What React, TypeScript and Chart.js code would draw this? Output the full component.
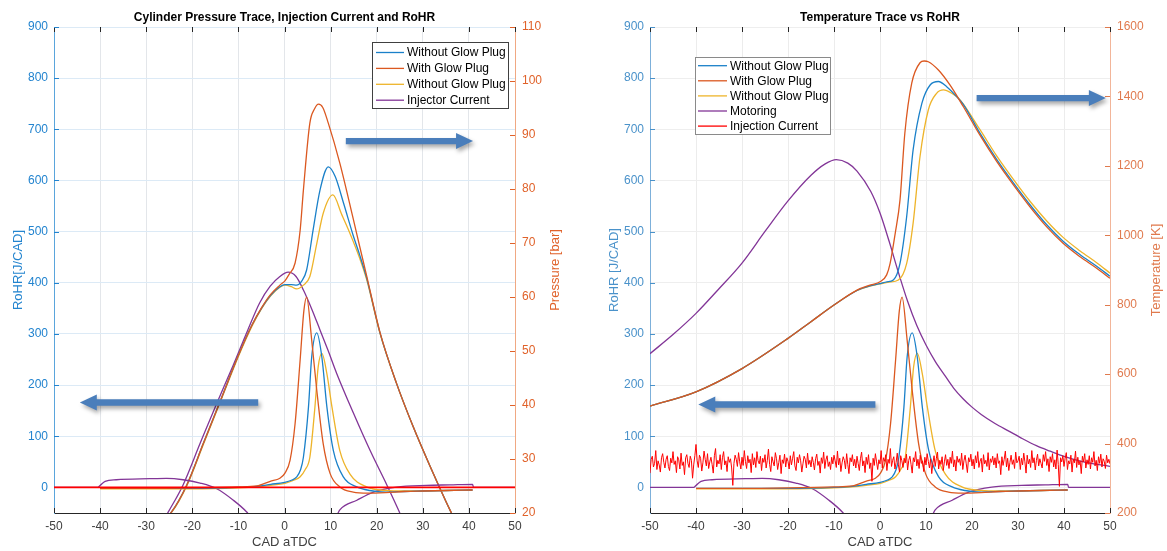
import React, { useEffect, useRef } from "react";
import { Chart, registerables } from "chart.js";

Chart.register(...registerables);

const FONT = "'Liberation Sans', Arial, Helvetica, sans-serif";

// ---------- tick labels ----------
const xTicks = [-50, -40, -30, -20, -10, 0, 10, 20, 30, 40, 50];
const rohrTicks = [0, 100, 200, 300, 400, 500, 600, 700, 800, 900];
const pressureTicks = [20, 30, 40, 50, 60, 70, 80, 90, 100, 110];
const tempTicks = [200, 400, 600, 800, 1000, 1200, 1400, 1600];

// ---------- RoHR [J/CAD] (both panels) ----------
const rohrBlueCad = [-40, -30, -20, -10, -6, -3, 0, 1.5, 2.6, 3.5, 4.1, 5.2, 5.9, 7.0, 8.1, 9.2, 10.6, 12.8, 15.7, 18.5, 22, 26, 30, 35, 40.8];
const rohrBlue = [-2, -2, -2, 0, 2, 6, 10, 14, 20, 35, 59, 157, 255, 302, 255, 157, 72, 20, 1, -6, -9, -8, -7, -6, -5];

const rohrOrangeCad = [-40, -30, -20, -10, -6, -3.1, -1, 0.1, 1.2, 2.3, 3.4, 4.2, 4.8, 5.9, 7.0, 8.4, 9.9, 12.0, 14.9, 18, 22, 26, 30, 35, 40.8];
const rohrOrange = [-2, -2, -1, 1, 3, 12, 18, 28, 53, 125, 250, 345, 372, 288, 190, 85, 27, 1, -9, -11, -10, -8, -7, -6, -5];

const rohrYellowCad = [-40, -30, -20, -10, -6, -3, 0.1, 2, 3.4, 4.5, 5.5, 6.6, 7.3, 8.1, 9.2, 10.3, 12.0, 14.2, 17.8, 22, 26, 30, 35, 40.8];
const rohrYellow = [-3, -3, -3, -1, 1, 4, 8, 14, 21, 35, 59, 157, 235, 262, 222, 157, 72, 26, 1, -6, -7, -7, -6, -5];

const rohrMotorCadA = [-50, -40.5, -40, -38.9, -36.5, -29.2, -25.6, -22, -18.3, -14.7, -11.1, -8.2, -7.5];
const rohrMotorA = [0, 0, 3.9, 12, 15, 17, 17.6, 15, 8.5, -2.6, -25, -48, -56];
const rohrMotorCadB = [11.3, 12, 15.7, 19.3, 24.3, 30.8, 35.9, 40.8, 41, 50];
const rohrMotorB = [-56, -44, -25, -9, 0.6, 4, 5, 6, 0, 0];

// ---------- Left panel: cylinder pressure [bar] ----------
const pOrangeCad = [-26, -24.5, -21.2, -17.6, -14, -10, -7, -5, -3, -1, 0.1, 1.0, 2.3, 3.4, 4.1, 5.5, 6.5, 7.4, 8.3, 9.5, 12, 14.9, 16.3, 17.8, 20.7, 24.3, 27.9, 31.6, 35.2, 36.5];
const pOrange = [19, 20.2, 25.2, 32.9, 40.6, 49.2, 54.9, 58.0, 60.5, 62.2, 63.0, 64.2, 66.3, 72.4, 79.8, 92.2, 94.8, 95.7, 95.1, 92.2, 84.8, 74.5, 69.4, 64.0, 53.5, 44.0, 36.0, 28.6, 21.8, 19.5];

const pBlueCad = [-26, -24.5, -21.2, -17.6, -14, -10, -7, -5, -3, -1, 0.1, 1.5, 2.6, 3.7, 4.8, 6.2, 7.7, 9.5, 11, 12.8, 14.9, 16.3, 17.8, 20.7, 24.3, 27.9, 31.6, 35.2, 36.5];
const pBlue = [19, 20.2, 25.2, 32.9, 40.6, 49.2, 54.9, 57.9, 60.3, 61.9, 62.3, 62.3, 62.2, 62.9, 65.0, 72.4, 79.8, 84.1, 82.3, 77.4, 71.4, 67.8, 63.6, 53.4, 44.0, 36.0, 28.6, 21.8, 19.5];

const pYellowCad = [-26, -24.5, -21.2, -17.6, -14, -10, -7, -5, -3, -1, 0.1, 1.5, 2.6, 4.1, 5.5, 7, 8.4, 10.5, 12.4, 13.8, 14.9, 16.3, 17.8, 20.7, 24.3, 27.9, 31.6, 35.2, 36.5];
const pYellow = [19, 20.1, 25.0, 32.7, 40.4, 49.0, 54.7, 57.8, 60.2, 61.8, 62.2, 61.9, 61.5, 62.2, 63.8, 69.9, 75.5, 78.9, 75.3, 72.6, 70.3, 67.2, 63.3, 53.3, 44.0, 36.0, 28.6, 21.8, 19.5];

const pMotorCad = [-26, -25.2, -22, -18.3, -14.7, -11.1, -8, -5.4, -3.1, -1, 0.8, 2.5, 4.1, 5.9, 7.7, 9.5, 11.3, 14.9, 18.5, 22.2, 24.7, 25.5];
const pMotor = [19, 20.2, 25.2, 32.9, 40.3, 47.4, 53.8, 58.9, 62.0, 63.8, 64.6, 63.8, 61.3, 57.8, 53.9, 50.0, 45.9, 38.6, 31.7, 25.2, 20.6, 19];

const injLeftCad = [-50, 50];
const injLeft = [0, 0];

// ---------- Right panel: temperature [K] ----------
const tOrangeCad = [-50, -40, -30, -20, -15, -10, -5, -2, 0, 1.45, 2.2, 3.3, 4.35, 5.4, 6.9, 8.7, 9.6, 10.5, 12.7, 15.2, 18.1, 21.7, 25.4, 29, 32.6, 36.2, 39.8, 43.5, 47.1, 50];
const tOrange = [508, 549, 616, 703, 751, 799, 842, 857, 866, 886, 919, 1005, 1102, 1294, 1438, 1497, 1502, 1500, 1476, 1433, 1371, 1289, 1212, 1145, 1082, 1025, 977, 938, 905, 876];

const tBlueCad = [-50, -40, -30, -20, -15, -10, -5, -2, 0, 1.5, 2.9, 4.35, 5.8, 7.2, 9.1, 10.9, 12.7, 14.5, 16.7, 18.1, 21.7, 25.4, 29, 32.6, 36.2, 39.8, 43.5, 47.1, 50];
const tBlue = [508, 549, 616, 703, 751, 799, 841, 855, 861, 866, 871, 919, 1054, 1246, 1380, 1433, 1443, 1428, 1399, 1377, 1295, 1218, 1151, 1088, 1031, 983, 944, 911, 882];

const tYellowCad = [-50, -40, -30, -20, -15, -10, -5, -2, 0, 2, 4, 5.8, 7.2, 8.7, 10.5, 12.3, 13.8, 15.6, 17.4, 21.7, 25.4, 29, 32.6, 36.2, 39.8, 43.5, 47.1, 50];
const tYellow = [508, 549, 616, 703, 751, 799, 841, 854, 860, 865, 871, 919, 1035, 1227, 1361, 1409, 1419, 1409, 1390, 1305, 1228, 1161, 1098, 1042, 994, 955, 921, 891];

const tMotorCad = [-50, -45, -40, -35, -30, -25, -20, -15, -12, -9.5, -7, -5, -2, 0, 2, 4, 6, 8, 10, 12, 14, 16, 18, 20, 22, 25, 28, 31, 34, 37, 40, 44, 50];
const tMotor = [659, 714, 775, 846, 920, 1011, 1099, 1173, 1205, 1218, 1208, 1185, 1126, 1064, 982, 893, 810, 740, 684, 637, 598, 560, 530, 505, 484, 458, 436, 414, 394, 378, 363, 348, 334];

// Injection current trace (read in RoHR-axis units), sampled every 0.25 CAD from -50 to 50
const injectionNoise = [
  28, 55, 61, 40, 47, 72, 35, 52, 44, 30, 58, 66, 49, 38, 55, 62, 41, 33, 57, 48,
  70, 45, 52, 29, 60, 54, 36, 67, 43, 50, 25, 58, 64, 47, 39, 61, 53, 18, 44, 62,
  84, 52, 39, 63, 57, 32, 48, 71, 55, 42, 66, 37, 50, 59, 45, 28, 62, 76, 40, 53,
  46, 64, 35, 58, 70, 44, 52, 31, 60, 49, 56, 38, 4, 47, 63, 55, 41, 68, 50, 36,
  59, 43, 72, 51, 37, 62, 48, 55, 29, 66, 44, 58, 39, 70, 52, 46, 61, 33, 57, 49,
  64, 38, 53, 75, 45, 31, 60, 50, 42, 68, 56, 35, 49, 63, 27, 54, 47, 65, 40, 58,
  51, 36, 62, 44, 57, 70, 42, 33, 59, 48, 64, 52, 30, 46, 61, 55, 38, 67, 45, 53,
  40, 60, 49, 34, 56, 65, 43, 51, 28, 58, 47, 69, 37, 54, 62, 41, 50, 35, 59, 46,
  63, 52, 39, 71, 44, 57, 31, 48, 60, 53, 36, 66, 45, 27, 58, 50, 64, 42, 55, 38,
  61, 47, 33, 56, 69, 42, 52, 29, 59, 45, 64, 37, 48, 12, 57, 43, 66, 50, 35, 54,
  46, 72, 38, 58, 51, 64, 33, 55, 47, 76, 41, 53, 60, 36, 49, 67, 44, 30, 62, 52,
  39, 57, 48, 65, 34, 53, 61, 45, 28, 58, 50, 70, 42, 55, 37, 63, 47, 52, 31, 59,
  44, 66, 51, 38, 56, 27, 48, 62, 41, 57, 69, 36, 53, 45, 60, 33, 50, 64, 43, 55,
  37, 59, 47, 71, 40, 54, 32, 61, 49, 56, 43, 67, 35, 52, 63, 46, 29, 58, 50, 65,
  42, 55, 36, 62, 48, 70, 39, 51, 57, 30, 64, 46, 53, 41, 68, 34, 56, 49, 61, 44,
  58, 38, 66, 47, 52, 25, 60, 43, 55, 71, 40, 57, 33, 49, 63, 45, 54, 37, 69, 48,
  52, 61, 35, 57, 44, 67, 50, 28, 63, 46, 55, 39, 72, 48, 58, 34, 53, 65, 42, 56,
  47, 38, 64, 51, 70, 43, 56, 31, 60, 49, 66, 40, 54, 36, 73, 45, 2, 58, 50, 62,
  41, 57, 68, 35, 52, 46, 63, 30, 55, 48, 71, 39, 59, 44, 52, 27, 61, 50, 66, 38,
  54, 45, 62, 36, 58, 49, 70, 42, 53, 33, 60, 47, 65, 40, 56, 51, 37, 63, 48, 55,
  46,
];
const noiseStep = 0.25;

// ---------- texts ----------
const leftTitle = "Cylinder Pressure Trace, Injection Current and RoHR";
const rightTitle = "Temperature Trace vs RoHR";
const xTitle = "CAD aTDC";
const legendLeftLabels = ["Without Glow Plug", "With Glow Plug", "Without Glow Plug", "Injector Current"];
const legendRightLabels = ["Without Glow Plug", "With Glow Plug", "Without Glow Plug", "Motoring", "Injection Current"];

// annotation arrows (data coordinates: tail x, tip x, RoHR level)
const leftArrows = [
  [-5.7, -44.4, 166],
  [13.3, 40.9, 677],
];
const rightArrows = [
  [-1.0, -39.5, 162],
  [21.0, 49.1, 761],
];

// ---------- styles ----------
const C_BLUE = "#1A80C9";
const C_ORANGE = "#DB5820";
const C_YELLOW = "#EEB42A";
const C_PURPLE = "#823597";
const C_RED = "#FF0000";

const pts = (xs: number[], ys: number[]) => xs.map((x, i) => ({ x, y: ys[i] }));

function line(label: string, data: any[], color: string, axis: string, extra: any = {}) {
  return {
    label,
    data,
    borderColor: color,
    backgroundColor: color,
    borderWidth: 1.3,
    pointRadius: 0,
    fill: false,
    yAxisID: axis,
    xAxisID: "x",
    cubicInterpolationMode: "monotone",
    clip: 0,
    ...extra,
  };
}

function rohrSets() {
  return [
    line("RoHR with glow plug", pts(rohrOrangeCad, rohrOrange), C_ORANGE, "y"),
    line("RoHR without glow plug", pts(rohrBlueCad, rohrBlue), C_BLUE, "y"),
    line("RoHR without glow plug 2", pts(rohrYellowCad, rohrYellow), C_YELLOW, "y"),
    line("Motoring RoHR a", pts(rohrMotorCadA, rohrMotorA), C_PURPLE, "y"),
    line("Motoring RoHR b", pts(rohrMotorCadB, rohrMotorB), C_PURPLE, "y"),
  ];
}

function arrow(ctx: CanvasRenderingContext2D, xTail: number, xTip: number, y: number) {
  const dir = Math.sign(xTip - xTail);
  const headLen = 17, headHalf = 8, shaftHalf = 3.2;
  const xb = xTip - dir * headLen;
  ctx.beginPath();
  ctx.moveTo(xTail, y - shaftHalf);
  ctx.lineTo(xb, y - shaftHalf);
  ctx.lineTo(xb, y - headHalf);
  ctx.lineTo(xTip, y);
  ctx.lineTo(xb, y + headHalf);
  ctx.lineTo(xb, y + shaftHalf);
  ctx.lineTo(xTail, y + shaftHalf);
  ctx.closePath();
  ctx.fill();
}

function decorPlugin(spec: any) {
  return {
    id: "decor",
    beforeDatasetsDraw(chart: any) {
      const { ctx, chartArea: a, scales } = chart;
      ctx.save();
      ctx.lineWidth = 1;
      ctx.strokeStyle = "#262626";
      ctx.beginPath();
      xTicks.forEach((v) => {
        const px = Math.round(scales.x.getPixelForValue(v)) + 0.5;
        ctx.moveTo(px, a.bottom);
        ctx.lineTo(px, a.bottom - 5);
        ctx.moveTo(px, a.top);
        ctx.lineTo(px, a.top + 5);
      });
      ctx.stroke();
      ctx.strokeStyle = spec.leftColor;
      ctx.beginPath();
      rohrTicks.forEach((v) => {
        const py = Math.round(scales.y.getPixelForValue(v)) + 0.5;
        ctx.moveTo(a.left, py);
        ctx.lineTo(a.left + 5, py);
      });
      ctx.stroke();
      ctx.strokeStyle = spec.rightColor;
      ctx.beginPath();
      spec.y1Ticks.forEach((v: number) => {
        const py = Math.round(scales.y1.getPixelForValue(v)) + 0.5;
        ctx.moveTo(a.right, py);
        ctx.lineTo(a.right - 5, py);
      });
      ctx.stroke();
      ctx.restore();
    },
    afterDatasetsDraw(chart: any) {
      const { ctx, scales } = chart;
      ctx.save();
      ctx.fillStyle = "#4A7EBB";
      ctx.shadowColor = "rgba(0,0,0,0.35)";
      ctx.shadowBlur = 4;
      ctx.shadowOffsetX = 2;
      ctx.shadowOffsetY = 3;
      spec.arrows.forEach((ar: number[]) => {
        arrow(ctx, scales.x.getPixelForValue(ar[0]), scales.x.getPixelForValue(ar[1]), scales.y.getPixelForValue(ar[2]));
      });
      ctx.restore();
    },
    afterDraw(chart: any) {
      const { ctx, chartArea: a } = chart;
      ctx.save();
      // title
      ctx.fillStyle = "#000";
      ctx.font = `bold 12px ${FONT}`;
      ctx.textAlign = "center";
      ctx.textBaseline = "middle";
      ctx.fillText(spec.title, (a.left + a.right) / 2, 17.5);
      // axis titles (both read bottom-to-top)
      const midY = (a.top + a.bottom) / 2;
      ctx.font = `13px ${FONT}`;
      [[spec.leftTitleX, spec.leftTitle, spec.leftTitleColor], [spec.rightTitleX, spec.rightTitle, spec.rightTitleColor]].forEach(([x, t, c]: any) => {
        ctx.save();
        ctx.translate(x, midY);
        ctx.rotate(-Math.PI / 2);
        ctx.fillStyle = c;
        ctx.fillText(t, 0, 0);
        ctx.restore();
      });
      // legend
      const L = spec.legend;
      ctx.fillStyle = "#fff";
      ctx.fillRect(L.x, L.y, L.w, L.h);
      ctx.strokeStyle = L.border;
      ctx.lineWidth = 1;
      ctx.strokeRect(L.x + 0.5, L.y + 0.5, L.w, L.h);
      ctx.font = `12px ${FONT}`;
      ctx.textAlign = "left";
      ctx.textBaseline = "middle";
      L.labels.forEach((lab: string, i: number) => {
        const y = L.row0 + i * L.step;
        ctx.strokeStyle = L.colors[i];
        ctx.lineWidth = 1.3;
        ctx.beginPath();
        ctx.moveTo(L.lx0, y);
        ctx.lineTo(L.lx1, y);
        ctx.stroke();
        ctx.fillStyle = "#000";
        ctx.fillText(lab, L.tx, y + 0.5);
      });
      ctx.restore();
    },
  };
}

const plainNumber = (v: any) => String(v);

function buildConfig(spec: any) {
  return {
    type: "line",
    data: { datasets: spec.datasets },
    options: {
      animation: false,
      responsive: false,
      devicePixelRatio: 1,
      layout: { padding: { top: 27, left: 0, right: 0, bottom: 0 } },
      plugins: { legend: { display: false }, tooltip: { enabled: false }, title: { display: false } },
      elements: { point: { radius: 0 } },
      scales: {
        x: {
          type: "linear",
          min: -50,
          max: 50,
          afterBuildTicks: (s: any) => { s.ticks = xTicks.map((v) => ({ value: v })); },
          afterFit: (s: any) => { s.height = 38; },
          ticks: { color: "#404040", font: { family: FONT, size: 12 }, padding: 6, maxRotation: 0, autoSkip: false, callback: plainNumber },
          grid: { color: spec.vGrid, drawTicks: false },
          border: { color: "#262626", width: 1 },
          title: { display: true, text: xTitle, color: "#404040", font: { family: FONT, size: 13 }, padding: { top: 0, bottom: 1 } },
        },
        y: {
          type: "linear",
          position: "left",
          min: -50,
          max: 900,
          afterBuildTicks: (s: any) => { s.ticks = rohrTicks.map((v) => ({ value: v })); },
          afterFit: (s: any) => { s.width = spec.leftW; },
          ticks: { color: spec.leftTickColor, font: { family: FONT, size: 12 }, padding: 6, autoSkip: false, callback: plainNumber },
          grid: { color: spec.hGrid, drawTicks: false },
          border: { color: spec.leftAxisLine, width: 1 },
        },
        y1: {
          type: "linear",
          position: "right",
          min: spec.y1Min,
          max: spec.y1Max,
          afterBuildTicks: (s: any) => { s.ticks = spec.y1Ticks.map((v: number) => ({ value: v })); },
          afterFit: (s: any) => { s.width = spec.rightW; },
          ticks: { color: spec.rightTickColor, font: { family: FONT, size: 12 }, padding: 7, autoSkip: false, callback: plainNumber },
          grid: { display: false, drawTicks: false },
          border: { color: spec.rightAxisLine, width: 1 },
        },
      },
    },
    plugins: [decorPlugin(spec)],
  };
}

const leftSpec = {
  title: leftTitle,
  leftTitle: "RoHR[J/CAD]",
  rightTitle: "Pressure [bar]",
  leftTitleX: 18.5,
  rightTitleX: 555,
  leftTitleColor: "#2384CF",
  rightTitleColor: "#E0622A",
  leftTickColor: "#2384CF",
  rightTickColor: "#E0622A",
  leftAxisLine: "#5AA5DC",
  rightAxisLine: "#F0A882",
  leftColor: "#2384CF",
  rightColor: "#E0622A",
  vGrid: "#E3E6EA",
  hGrid: "#DCEAF6",
  leftW: 54,
  rightW: 68,
  y1Min: 20,
  y1Max: 110,
  y1Ticks: pressureTicks,
  arrows: leftArrows,
  legend: {
    x: 372, y: 42, w: 136, h: 66, row0: 52.5, step: 15.9, lx0: 376, lx1: 404, tx: 407,
    border: "#404040",
    labels: legendLeftLabels,
    colors: [C_BLUE, C_ORANGE, C_YELLOW, C_PURPLE],
  },
  datasets: [
    line("Injector Current", pts(injLeftCad, injLeft), C_RED, "y", { cubicInterpolationMode: "default", borderWidth: 1.8 }),
    ...rohrSets(),
    line("Pressure with glow plug", pts(pOrangeCad, pOrange), C_ORANGE, "y1"),
    line("Pressure without glow plug", pts(pBlueCad, pBlue), C_BLUE, "y1"),
    line("Pressure without glow plug 2", pts(pYellowCad, pYellow), C_YELLOW, "y1"),
    line("Motoring pressure", pts(pMotorCad, pMotor), C_PURPLE, "y1"),
  ],
};

const rightSpec = {
  title: rightTitle,
  leftTitle: "RoHR [J/CAD]",
  rightTitle: "Temperature [K]",
  leftTitleX: 30,
  rightTitleX: 572,
  leftTitleColor: "#4A92CA",
  rightTitleColor: "#E07A4E",
  leftTickColor: "#4A92CA",
  rightTickColor: "#E07A4E",
  leftAxisLine: "#7DB0DA",
  rightAxisLine: "#F2B599",
  leftColor: "#4A92CA",
  rightColor: "#E07A4E",
  vGrid: "#ECECEC",
  hGrid: "#EEEEEE",
  leftW: 66,
  rightW: 57,
  y1Min: 200,
  y1Max: 1600,
  y1Ticks: tempTicks,
  arrows: rightArrows,
  legend: {
    x: 111, y: 57, w: 135, h: 77, row0: 65.7, step: 15.1, lx0: 114, lx1: 143, tx: 146,
    border: "#8A8A8A",
    labels: legendRightLabels,
    colors: [C_BLUE, C_ORANGE, C_YELLOW, C_PURPLE, C_RED],
  },
  datasets: [
    line("Injection Current", pts(injectionNoise.map((_, i) => -50 + i * noiseStep), injectionNoise), C_RED, "y", { cubicInterpolationMode: "default", tension: 0, borderWidth: 1 }),
    ...rohrSets(),
    line("Temperature with glow plug", pts(tOrangeCad, tOrange), C_ORANGE, "y1"),
    line("Temperature without glow plug", pts(tBlueCad, tBlue), C_BLUE, "y1"),
    line("Temperature without glow plug 2", pts(tYellowCad, tYellow), C_YELLOW, "y1"),
    line("Motoring temperature", pts(tMotorCad, tMotor), C_PURPLE, "y1"),
  ],
};

function Panel({ spec, left }: { spec: any; left: number }) {
  const ref = useRef<HTMLCanvasElement>(null);
  useEffect(() => {
    const chart = new Chart(ref.current as HTMLCanvasElement, buildConfig(spec) as any);
    return () => chart.destroy();
  }, []);
  return (
    <canvas
      ref={ref}
      width={583}
      height={551}
      style={{ position: "absolute", left, top: 0, width: 583, height: 551 }}
    />
  );
}

export default function App() {
  return (
    <div style={{ position: "fixed", left: 0, top: 0, width: 1167, height: 551, background: "#fff" }}>
      <Panel spec={leftSpec} left={0} />
      <Panel spec={rightSpec} left={584} />
    </div>
  );
}
